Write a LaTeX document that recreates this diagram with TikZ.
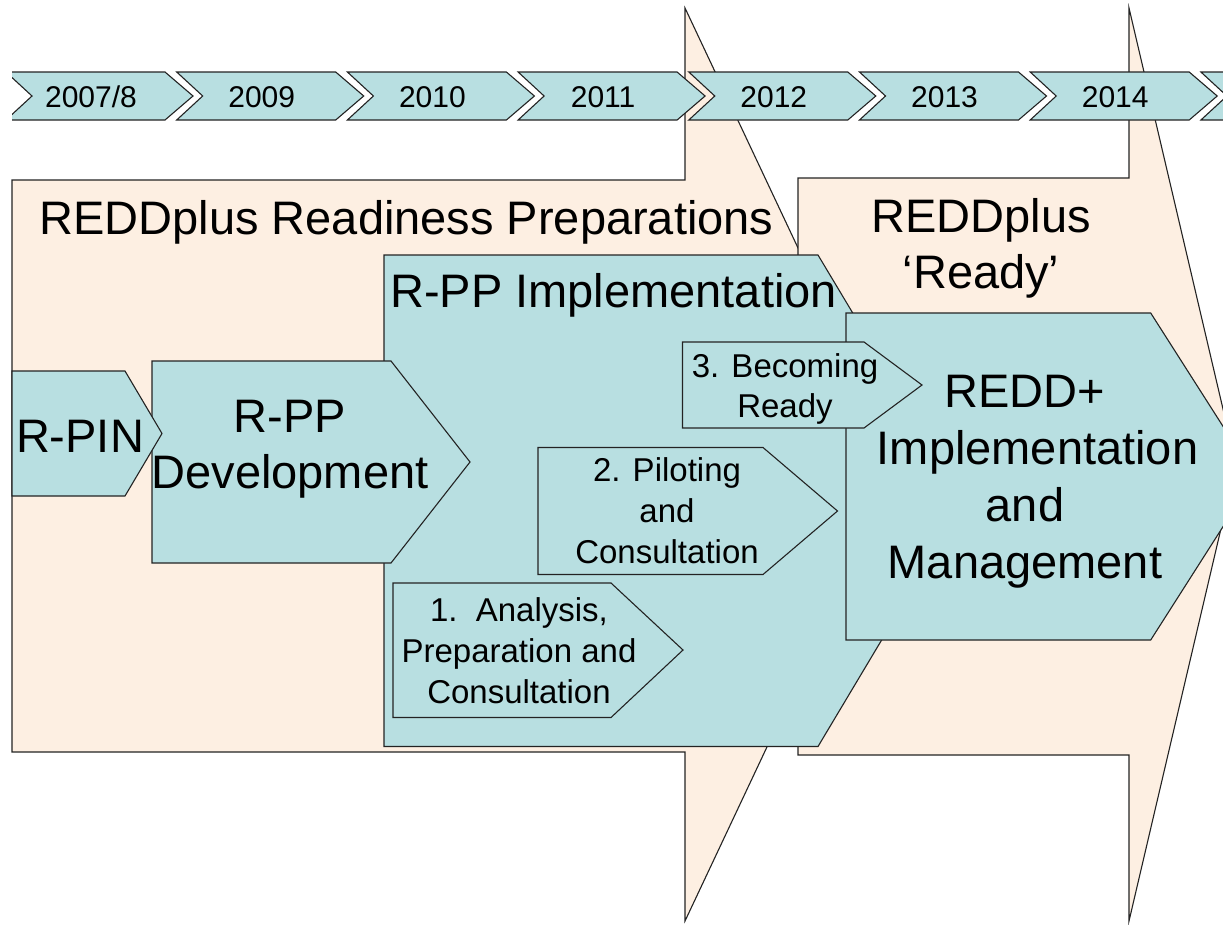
\documentclass[tikz,border=0pt]{standalone}
\usepackage{fontspec}
\setmainfont{Liberation Sans}
\definecolor{tealfill}{RGB}{184,223,225}
\definecolor{peach}{RGB}{253,239,226}
\definecolor{edge}{RGB}{35,35,35}
\tikzset{
  outl/.style={draw=edge, line width=1.1pt, line join=miter},
  blueshape/.style={outl, fill=tealfill},
  peachshape/.style={outl, fill=peach},
  bigtxt/.style={font=\fontsize{47}{56}\selectfont, inner sep=0pt, align=center},
  bigtxtb/.style={font=\fontsize{47}{57}\selectfont, inner sep=0pt, align=center},
  midtxt/.style={font=\fontsize{33}{40.8}\selectfont, inner sep=0pt, align=center},
  yeartxt/.style={font=\fontsize{30}{36}\selectfont, inner sep=0pt, anchor=base}
}
\begin{document}
\begin{tikzpicture}[x=1pt,y=-1pt]
\useasboundingbox (0,0) rectangle (1223,924);
\clip (0,0) rectangle (1223,924);
% large background arrows
\path[peachshape] (12,180) -- (685,180) -- (685,8) -- (900,464.5) -- (685,921) -- (685,752) -- (12,752) -- cycle;
\path[peachshape] (798,178) -- (1129,178) -- (1129,8) -- (1236,464.5) -- (1129,921) -- (1129,755) -- (798,755) -- cycle;
% timeline
\begin{scope}
\clip (12,0) rectangle (1223,924);
\foreach \i/\yr in {0/2007\slash 8,1/2009,2/2010,3/2011,4/2012,5/2013,6/2014,7/{}} {
  \pgfmathsetmacro{\a}{6+170.7*\i}
  \path[blueshape] (\a,72) -- ({\a+159},72) -- ({\a+187},96) -- ({\a+159},120) -- (\a,120) -- ({\a+26},96) -- cycle;
  \node[yeartxt] (yr\i) at ({\a+85},107) {\yr};
}
\end{scope}
% R-PP implementation
\path[blueshape] (384,255) -- (818,255) -- (965,500.5) -- (818,746.5) -- (384,746.5) -- cycle;
% REDD+ implementation
\path[blueshape] (846,313) -- (1150.7,313) -- (1255,476.5) -- (1150.7,640) -- (846,640) -- cycle;
% smaller arrows
\path[blueshape] (152,361) -- (391,361) -- (470,462) -- (391,563) -- (152,563) -- cycle;
\path[blueshape] (12,371) -- (125,371) -- (162,433.5) -- (125,496) -- (12,496) -- cycle;
\path[blueshape] (393,583) -- (611,583) -- (683,650) -- (611,717.5) -- (393,717.5) -- cycle;
\path[blueshape] (538,447.5) -- (763,447.5) -- (837.5,511) -- (763,574.5) -- (538,574.5) -- cycle;
\path[blueshape] (682.5,342) -- (864,342) -- (922,385) -- (864,428) -- (682.5,428) -- cycle;
% texts
\node[bigtxt, anchor=base] (readiness) at (406.5,234) {REDDplus Readiness Preparations};
\node[bigtxt, anchor=base west] (rppimpl) at (390,307) {R-PP Implementation};
\node[bigtxt, anchor=north] (ready) at (981,192.8) {\strut REDDplus\\‘Ready’};
\node[bigtxtb, anchor=north] (reddimpl) at (1025,367.1) {\strut REDD+\\\hspace*{25pt}Implementation\\and\hspace*{15pt}\\Management};
\node[bigtxt, anchor=base] (rpin) at (80,452) {R-PIN};
\node[bigtxt, anchor=north] (rppdev) at (290,392.8) {\strut R-PP\\Development};
\node[midtxt, anchor=north] (step1) at (519,593.2) {\strut 1.\ \ Analysis,\\Preparation and\\Consultation};
\node[midtxt, anchor=north] (step2) at (667,453.2) {\strut 2. Piloting\\and\\Consultation};
\node[midtxt, anchor=north] (step3) at (785,348.4) {\strut 3. Becoming\\Ready};
\end{tikzpicture}
\end{document}
